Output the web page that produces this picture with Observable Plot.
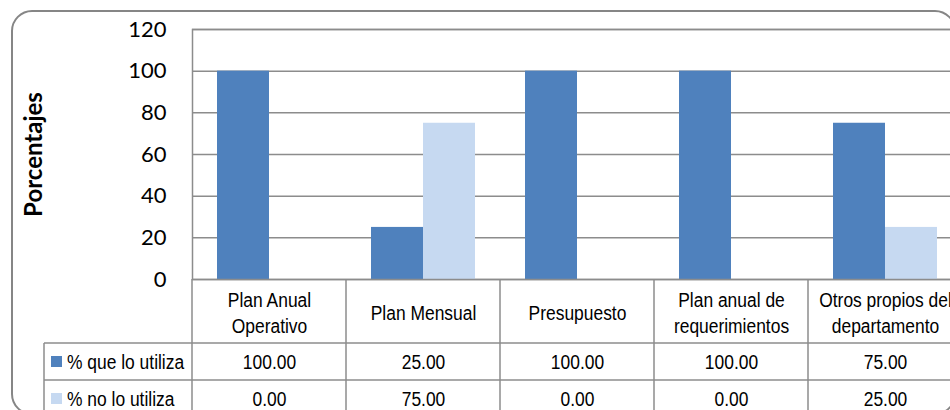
<!DOCTYPE html>
<html>
<head>
<meta charset="utf-8">
<script src="https://cdn.jsdelivr.net/npm/d3@7"></script>
<script src="https://cdn.jsdelivr.net/npm/@observablehq/plot@0.6"></script>
<style>
  html, body { margin: 0; padding: 0; background: #fff; }
  svg { display: block; }
</style>
</head>
<body>
<div id="chart"></div>
<script>
// Instrumentos de planificación y porcentaje de uso
const categories = [
  "Plan Anual\nOperativo",
  "Plan Mensual",
  "Presupuesto",
  "Plan anual de\nrequerimientos",
  "Otros propios del\ndepartamento"
];
const usaValues = [100, 25, 100, 100, 75];
const noUsaValues = [0, 75, 0, 0, 25];
const seriesNames = ["% que lo utiliza", "% no lo utiliza"];
const seriesColors = ["#4f81bd", "#c6d9f1"];
const yTicks = [0, 20, 40, 60, 80, 100, 120];
const yLabel = "Porcentajes";

const W = 950, H = 410;
const mLeft = 192, mTop = 29, mBottom = 131, mRight = -12;
const lineColor = "#8c8c8c";
const tableFont = "'Liberation Sans', Arial, sans-serif";
const tableFontSize = 21;
const narrow = 0.83; // estrechamiento horizontal del texto de la tabla
const catRowH = 64, valueRowH = 37;

const tableText = { fontSize: tableFontSize, fontFamily: tableFont, fill: "#000", className: "tabla" };

const chart = Plot.plot({
  width: W,
  height: H,
  marginLeft: mLeft,
  marginTop: mTop,
  marginBottom: mBottom,
  marginRight: mRight,
  style: { fontFamily: "Lato, sans-serif", fontSize: "22px", background: "#fff", color: "#000", overflow: "visible" },
  x: { domain: categories, range: [mLeft, W - mRight], padding: 0, axis: null },
  y: { domain: [0, 120], ticks: yTicks, tickSize: 0, tickPadding: 26, label: null },
  marks: [
    Plot.ruleY(yTicks, { stroke: lineColor, strokeWidth: 1.5 }),
    Plot.barY(categories, { x: d => d, y: (d, i) => usaValues[i], fill: seriesColors[0], insetLeft: 25, insetRight: 77 }),
    Plot.barY(categories, { x: d => d, y: (d, i) => noUsaValues[i], fill: seriesColors[1], insetLeft: 77, insetRight: 25 }),
    Plot.frame({ stroke: lineColor, strokeWidth: 1.5 }),
    // título vertical del eje
    Plot.text([yLabel], { frameAnchor: "left", dx: -158, rotate: -90, textAnchor: "middle", text: d => d, fontWeight: "bold", fontSize: 24, fontFamily: "Lato, sans-serif", fill: "#000" }),
    // tabla de datos: categorías
    Plot.text(categories, { x: d => d, text: d => d, frameAnchor: "bottom", textAnchor: "middle", dy: 32, lineAnchor: "middle", lineHeight: 1.25, ...tableText }),
    // tabla de datos: valores
    Plot.text(categories, { x: d => d, text: (d, i) => usaValues[i].toFixed(2), frameAnchor: "bottom", textAnchor: "middle", dy: catRowH + valueRowH / 2, lineAnchor: "middle", ...tableText }),
    Plot.text(categories, { x: d => d, text: (d, i) => noUsaValues[i].toFixed(2), frameAnchor: "bottom", textAnchor: "middle", dy: catRowH + valueRowH * 1.5, lineAnchor: "middle", ...tableText })
  ]
});

document.getElementById("chart").appendChild(chart);

const svg = d3.select(chart);

// texto de la tabla en versión estrecha
svg.selectAll("g.tabla text").each(function () {
  const t = this.getAttribute("transform") || "";
  this.setAttribute("transform", `${t} scale(${narrow},1)`);
});

// Rejilla de la tabla y leyenda de filas
const xs = chart.scale("x");
const frameBottom = H - mBottom;
const xEnd = W - mRight;
const legendLeft = 44;
const g = svg.append("g").attr("stroke", lineColor).attr("stroke-width", 1.5).attr("fill", "none");

categories.forEach(c => {
  const x0 = xs.apply(c);
  g.append("line").attr("x1", x0).attr("x2", x0).attr("y1", frameBottom).attr("y2", H + 10);
});
[0, 1].forEach(r => {
  const y = frameBottom + catRowH + r * valueRowH;
  g.append("line").attr("x1", legendLeft).attr("x2", xEnd).attr("y1", y).attr("y2", y);
});
g.append("line").attr("x1", legendLeft).attr("x2", legendLeft).attr("y1", frameBottom + catRowH).attr("y2", H + 10);

const leg = svg.append("g");
seriesNames.forEach((name, r) => {
  const cy = frameBottom + catRowH + valueRowH * (r + 0.5);
  leg.append("rect").attr("x", 51).attr("y", cy - 5.5).attr("width", 11).attr("height", 11).attr("fill", seriesColors[r]);
  leg.append("text")
    .attr("transform", `translate(67,${cy}) scale(${narrow},1)`)
    .attr("dy", "0.35em")
    .attr("text-anchor", "start")
    .attr("font-family", tableFont).attr("font-size", tableFontSize).attr("fill", "#000").text(name);
});

// Marco exterior redondeado del gráfico
svg.insert("rect", ":first-child")
  .attr("x", 12).attr("y", 11).attr("width", 943).attr("height", 403).attr("rx", 20)
  .attr("fill", "none").attr("stroke", "#868686").attr("stroke-width", 2);
</script>
</body>
</html>
